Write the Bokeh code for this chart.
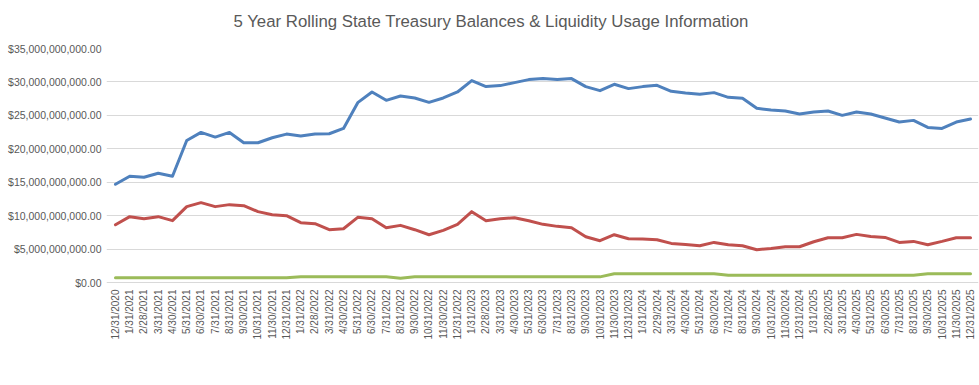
import math
from bokeh.plotting import figure
from bokeh.models import (Range1d, FixedTicker, NumeralTickFormatter, Legend, LegendItem,
                          ColumnDataSource, Title)
from bokeh.core.properties import value
from bokeh.embed import file_html
from bokeh.resources import INLINE

dates = ["12/31/2020",
         "1/31/2021", "2/28/2021", "3/31/2021", "4/30/2021", "5/31/2021", "6/30/2021",
         "7/31/2021", "8/31/2021", "9/30/2021", "10/31/2021", "11/30/2021", "12/31/2021",
         "1/31/2022", "2/28/2022", "3/31/2022", "4/30/2022", "5/31/2022", "6/30/2022",
         "7/31/2022", "8/31/2022", "9/30/2022", "10/31/2022", "11/30/2022", "12/31/2022",
         "1/31/2023", "2/28/2023", "3/31/2023", "4/30/2023", "5/31/2023", "6/30/2023",
         "7/31/2023", "8/31/2023", "9/30/2023", "10/31/2023", "11/30/2023", "12/31/2023",
         "1/31/2024", "2/29/2024", "3/31/2024", "4/30/2024", "5/31/2024", "6/30/2024",
         "7/31/2024", "8/31/2024", "9/30/2024", "10/31/2024", "11/30/2024", "12/31/2024",
         "1/31/2025", "2/28/2025", "3/31/2025", "4/30/2025", "5/31/2025", "6/30/2025",
         "7/31/2025", "8/31/2025", "9/30/2025", "10/31/2025", "11/30/2025", "12/31/2025"]

# values in billions of dollars
overall_treasury_bn = [14.7, 15.9, 15.75, 16.35, 15.9, 21.25, 22.45, 21.75, 22.45, 20.9, 20.9, 21.65, 22.2,
                       21.9, 22.2, 22.25, 23.05, 26.9, 28.5, 27.25, 27.9, 27.6, 26.95, 27.6, 28.5,
                       30.2, 29.3, 29.45, 29.9, 30.35, 30.5, 30.35, 30.5, 29.3, 28.7, 29.65, 29.0,
                       29.3, 29.5, 28.6, 28.35, 28.15, 28.4, 27.7, 27.55, 26.05, 25.8, 25.65, 25.2,
                       25.5, 25.65, 25.0, 25.5, 25.2, 24.6, 24.0, 24.25, 23.2, 23.05, 24.0, 24.45]

liquidity_portfolio_bn = [8.65, 9.85, 9.55, 9.85, 9.25, 11.35, 11.95, 11.35, 11.65, 11.5, 10.6, 10.15, 10.0,
                          8.95, 8.8, 7.9, 8.05, 9.75, 9.55, 8.2, 8.55, 7.9, 7.15, 7.8, 8.7,
                          10.6, 9.25, 9.55, 9.7, 9.25, 8.7, 8.4, 8.2, 6.85, 6.25, 7.15, 6.55,
                          6.5, 6.4, 5.85, 5.7, 5.5, 6.0, 5.65, 5.5, 4.9, 5.1, 5.35, 5.35,
                          6.1, 6.7, 6.7, 7.2, 6.9, 6.75, 6.0, 6.15, 5.65, 6.15, 6.7, 6.7]

liquidity_usage_bn = [0.7, 0.7, 0.7, 0.7, 0.7, 0.7, 0.7, 0.7, 0.7, 0.7, 0.7, 0.7, 0.7,
                      0.85, 0.85, 0.85, 0.85, 0.85, 0.85, 0.85, 0.65, 0.85, 0.85, 0.85, 0.85,
                      0.85, 0.85, 0.85, 0.85, 0.85, 0.85, 0.85, 0.85, 0.85, 0.85, 1.3, 1.3,
                      1.3, 1.3, 1.3, 1.3, 1.3, 1.3, 1.1, 1.1, 1.1, 1.1, 1.1, 1.1,
                      1.1, 1.1, 1.1, 1.1, 1.1, 1.1, 1.1, 1.1, 1.3, 1.3, 1.3, 1.3]

y_ticks = [0, 5e9, 10e9, 15e9, 20e9, 25e9, 30e9, 35e9]

series_names = ["Overall State Treasury", "Liquidity Portoflio", "Liquidity Usage"]
series_colors = ["#4F81BD", "#C0504D", "#9BBB59"]

idx = list(range(len(dates)))
src = ColumnDataSource(dict(
    x=idx,
    base=[0] * len(dates),
    label=dates,
    treasury=[v * 1e9 for v in overall_treasury_bn],
    portfolio=[v * 1e9 for v in liquidity_portfolio_bn],
    usage=[v * 1e9 for v in liquidity_usage_bn],
))

FONT = "Liberation Sans"
TXT = "#595959"

# the frame extends below zero so the category labels and legend live inside it
p = figure(frame_width=872, frame_height=335, output_backend="svg", toolbar_location=None,
           x_range=Range1d(-0.63, len(dates) - 1 + 0.56), y_range=Range1d(-15.1e9, 35e9),
           min_border_left=106, min_border_right=1, min_border_top=48, min_border_bottom=0)
p.outline_line_color = None
p.background_fill_color = "white"
p.border_fill_color = "white"

# blank spacer panel between the title and the plot frame
p.add_layout(Title(text=" ", text_font_size="1px", standoff=6), "above")

p.title = Title(text="5 Year Rolling State Treasury Balances & Liquidity Usage Information",
                align="left", offset=127, text_font=FONT, text_font_size="16.8px",
                text_font_style="normal", text_color=TXT, standoff=18)

renderers = []
for col, color in zip(["treasury", "portfolio", "usage"], series_colors):
    r = p.line("x", col, source=src, line_color=color, line_width=3, line_join="round", line_cap="round")
    renderers.append(r)

# category (date) labels, vertical, hanging below the zero line
p.text(x="x", y="base", text="label", source=src, angle=math.pi / 2,
       text_align="right", text_baseline="middle", y_offset=7,
       text_font=value(FONT), text_font_size="10px", text_color=TXT)

p.xaxis.visible = False

p.yaxis.ticker = FixedTicker(ticks=y_ticks)
p.yaxis.formatter = NumeralTickFormatter(format="$0,0.00")
p.yaxis.major_label_text_font = FONT
p.yaxis.major_label_text_font_size = "10.5px"
p.yaxis.major_label_text_color = TXT
p.yaxis.axis_line_color = None
p.yaxis.major_tick_line_color = None
p.yaxis.minor_tick_line_color = None
p.yaxis.major_tick_out = 0
p.yaxis.major_tick_in = 0
p.yaxis.major_label_standoff = 5

p.xgrid.grid_line_color = None
p.ygrid.grid_line_color = "#D9D9D9"
p.ygrid.grid_line_width = 1

legend = Legend(items=[LegendItem(label=n, renderers=[r]) for n, r in zip(series_names, renderers)],
                orientation="horizontal", location=(186, -19),
                label_text_font=FONT, label_text_font_size="11px", label_text_color=TXT,
                glyph_width=28, glyph_height=14, label_height=14, spacing=20, label_standoff=2,
                border_line_color=None, background_fill_alpha=0,
                padding=0, margin=0)
p.add_layout(legend)

open("out.html", "w").write(file_html(p, INLINE))
